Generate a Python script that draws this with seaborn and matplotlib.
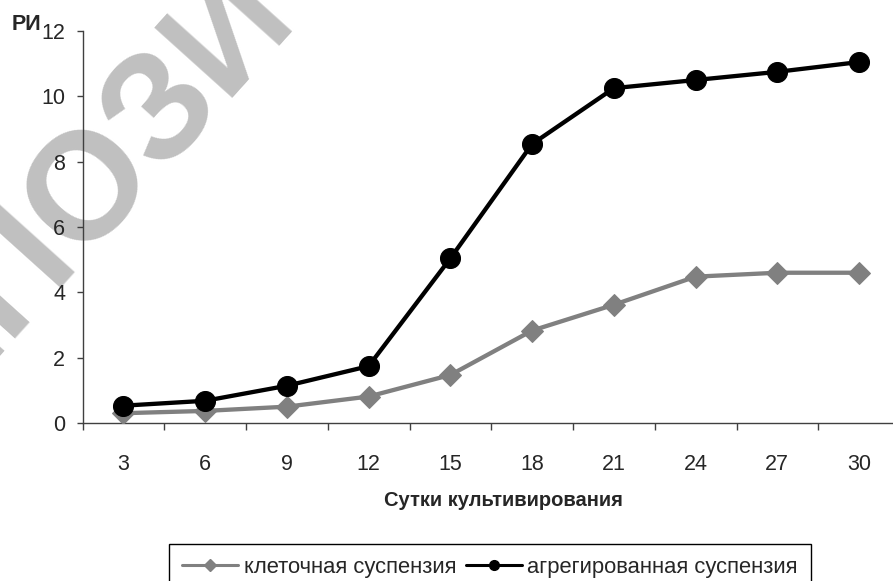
import matplotlib
matplotlib.use("Agg")
import matplotlib.pyplot as plt
from matplotlib.lines import Line2D
import numpy as np
import seaborn as sns

# данные: сутки культивирования и РИ
days = [3, 6, 9, 12, 15, 18, 21, 24, 27, 30]
cell_susp = [0.30, 0.37, 0.50, 0.81, 1.47, 2.83, 3.62, 4.48, 4.60, 4.60]
aggr_susp = [0.53, 0.68, 1.14, 1.74, 5.04, 8.54, 10.25, 10.50, 10.75, 11.05]
series_names = ["клеточная суспензия", "агрегированная суспензия"]

sns.set_style("white")
plt.rcParams['font.family'] = ['Liberation Sans', 'DejaVu Sans']

fig = plt.figure(figsize=(8.93, 5.81), dpi=100)
ax = fig.add_axes([82.5 / 893, 158 / 581, 817.5 / 893, 392 / 581])
ax.set_facecolor('none')

# водяной знак
fig.text(0.292, 0.905, "РЕПОЗИТОРИЙ", fontsize=110, fontweight='bold', color='#c0c0c0',
         rotation=48, rotation_mode='anchor', ha='center', va='baseline', zorder=-5)

pos = np.arange(len(days))
sns.lineplot(x=pos, y=cell_susp, color='#808080', marker='D', markersize=11.5,
             markeredgecolor='#808080', linewidth=3.1, ax=ax, zorder=3)
sns.lineplot(x=pos, y=aggr_susp, color='black', marker='o', markersize=14.4,
             markeredgecolor='black', linewidth=3.1, ax=ax, zorder=4)

ax.set_xlim(-0.5, len(days) - 0.5)
ax.set_ylim(0, 12)
ax.set_yticks(range(0, 13, 2))
ax.set_xticks(pos)
ax.set_xticklabels([str(d) for d in days])
ax.set_xticks(np.arange(-0.5, len(days), 1), minor=True)
ax.tick_params(axis='x', which='major', length=0, pad=22, labelsize=15.5)
ax.tick_params(axis='x', which='minor', length=5, width=1, color='#404040', direction='out')
ax.tick_params(axis='y', length=4.5, width=1, color='#404040', direction='out', pad=8, labelsize=15.5)
ax.yaxis.set_tick_params(left=True)
ax.xaxis.set_tick_params(which='minor', bottom=True)

for s in ['top', 'right']:
    ax.spines[s].set_visible(False)
for s in ['left', 'bottom']:
    ax.spines[s].set_color('#404040')
    ax.spines[s].set_linewidth(1)

ax.set_xlabel("")
ax.set_ylabel("")
fig.text(12 / 893, 1 - 30 / 581, "РИ", fontsize=15.5, fontweight='bold', ha='left', va='baseline')
fig.text(503 / 893, 1 - 500 / 581, "Сутки культивирования", fontsize=14.5,
         fontweight='bold', ha='center', va='center')

handles = [
    Line2D([], [], color='#808080', marker='D', markersize=6, linewidth=2.2),
    Line2D([], [], color='black', marker='o', markersize=7, linewidth=2.2),
]
leg = fig.legend(handles, series_names, ncol=2, loc='upper left',
                 bbox_to_anchor=(169 / 893, 1 - 543.5 / 581), fontsize=15.8,
                 frameon=True, fancybox=False, edgecolor='black', framealpha=1,
                 handlelength=2.55, handletextpad=0.25, columnspacing=0.45,
                 borderpad=0.6, borderaxespad=0)
leg.get_frame().set_linewidth(1)

fig.savefig("out.png", dpi=100)
